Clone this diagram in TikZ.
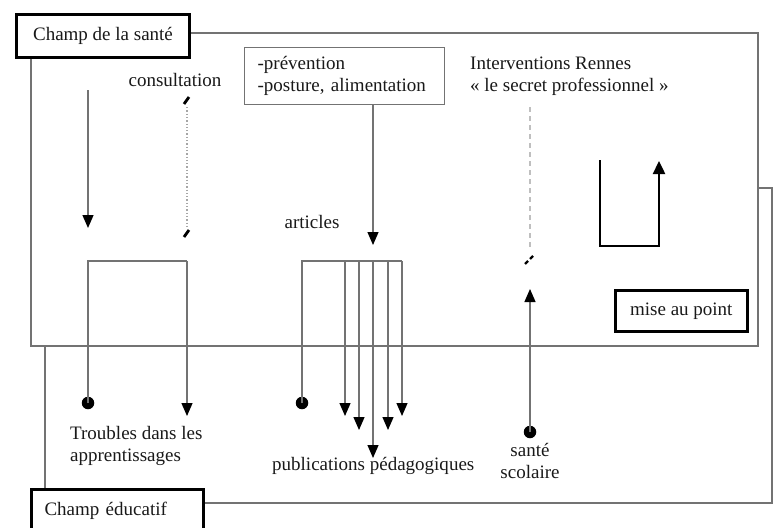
\documentclass[tikz,border=0pt]{standalone}
\usepackage{fontspec}
\setmainfont{Liberation Serif}
\usetikzlibrary{arrows.meta,calc}
\begin{document}
\begin{tikzpicture}[x=1pt,y=-1pt,
  font=\fontsize{19}{22.5}\selectfont,
  every node/.style={text=black!90},
  thinline/.style={draw=black!55, line width=1.3pt},
  arr/.style={thinline, -{Triangle[width=11pt,length=13pt,color=black]}},
  labelbox/.style={draw=black, line width=3pt, fill=white, inner sep=0pt},
  dotmark/.style={circle, fill=black, draw=none, inner sep=0pt, minimum size=12.5pt},
  slash/.style={draw=black, line width=2.8pt},
  txt/.style={inner sep=0pt}
]
\useasboundingbox (0,0) rectangle (773,527);
\clip (0,0) rectangle (773,527);

% fields
\draw[thinline] (45,188) rectangle (772,503);
\draw[thinline, fill=white] (31,33) rectangle (758,346);

\node[labelbox, anchor=north west, minimum width=173pt, minimum height=43pt] (sante) at (15,13) {Champ de la santé};
\node[labelbox, anchor=north west, minimum width=172pt, minimum height=43pt, text width=146pt, inner xsep=13pt, align=left] (educ) at (30,488) {Champ éducatif};

% texts
\node[txt] (consult) at (175,80) {consultation};
\node[thinline, anchor=north west, minimum width=200pt, minimum height=57pt, text width=174pt, inner xsep=13pt, inner ysep=0pt, align=left] (prev) at (244,47) {-prévention\\-posture, alimentation};
\node[txt, anchor=west, align=left] (interv) at (470,76) {Interventions Rennes\\« le secret professionnel »};
\node[txt] (articles) at (312,222) {articles};
\node[labelbox, line width=2.6pt, anchor=north west, minimum width=132pt, minimum height=41pt] (mise) at (614,289) {mise au point};
\node[txt, anchor=west, align=left] (troubles) at (70,446) {Troubles dans les\\apprentissages};
\node[txt, anchor=west] (public) at (272,466) {publications pédagogiques};
\node[txt, align=center] (scol) at (530,461) {santé\\scolaire};

% left arrow
\coordinate (l1) at (88,90);
\coordinate (l2) at (88,228);
\draw[arr] (l1) -- (l2);

% consultation dotted link
\coordinate (c1) at (187,100);
\coordinate (c2) at (187,233);
\draw[draw=black!35, line width=1.3pt, dotted] ($(c1)+(0,7)$) -- ($(c2)+(0,-7)$);
\draw[slash] ($(c1)+(-3,4)$) -- ($(c1)+(2,-3)$);
\draw[slash] ($(c2)+(-3,4)$) -- ($(c2)+(2,-3)$);

% prevention arrow
\coordinate (art) at (373,245);
\draw[arr] (prev.south -| art) -- (art);

% interventions dashed link
\coordinate (i1) at (530,107);
\coordinate (i2) at (530,261);
\draw[draw=black!25, line width=1.2pt, dash pattern=on 5pt off 4pt] (i1) -- ($(i2)+(0,-11)$);
\draw[slash, line width=2.4pt] ($(i2)+(-5,3)$) -- ($(i2)+(-2,0)$);
\draw[slash, line width=2.4pt] ($(i2)+(0,-2)$) -- ($(i2)+(3,-5)$);

% U loop
\coordinate (u1) at (600,160);
\coordinate (u2) at (659,246);
\coordinate (u3) at (659,161);
\draw[draw=black, line width=2.4pt, -{Triangle[width=12pt,length=13pt]}] (u1) |- (u2) -- (u3);

% troubles bracket
\node[dotmark] (td) at (88,403) {};
\coordinate (tc) at (187,261);
\coordinate (ta) at (187,416);
\draw[thinline] (td.center) |- (tc);
\draw[arr] (tc) -- (ta);

% publications bracket
\node[dotmark] (pd) at (302,403) {};
\coordinate (pc) at (402,261);
\draw[thinline] (pd.center) |- (pc);
\foreach \x/\y [count=\i] in {345/416, 359/430, 373/458, 388/430, 402/416}{
  \coordinate (ps\i) at (\x,261);
  \coordinate (pe\i) at (\x,\y);
  \draw[arr] (ps\i) -- (pe\i);
}

% sante scolaire arrow
\node[dotmark] (sd) at (530,432) {};
\coordinate (st) at (530,289);
\draw[arr] (sd.center) -- (st);
\end{tikzpicture}
\end{document}
